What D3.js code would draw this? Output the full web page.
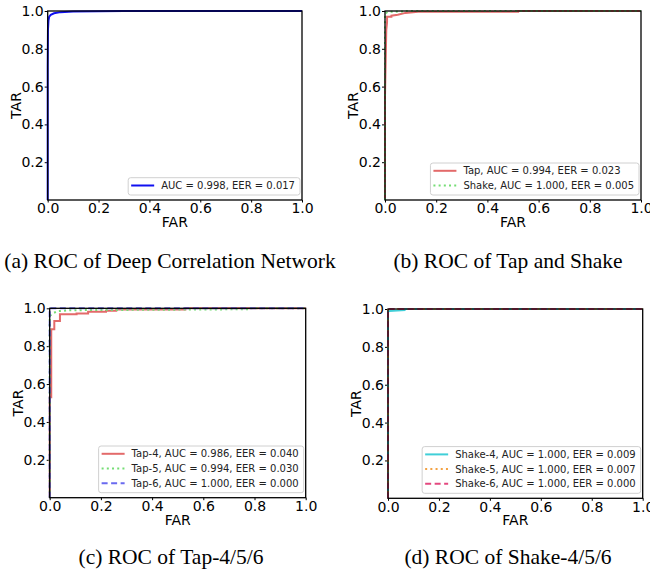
<!DOCTYPE html>
<html>
<head>
<meta charset="utf-8">
<script src="https://cdn.jsdelivr.net/npm/d3@7/dist/d3.min.js"></script>
<style>
  body { margin: 0; background: #fff; }
  svg { display: block; }
</style>
</head>
<body>
<svg id="chart" width="650" height="576"></svg>
<script>
// ROC curves as [FAR, TAR] points
const dcnRoc = [[0,0],[0,0.7],[0.001,0.9],[0.003,0.95],[0.006,0.97],[0.012,0.98],[0.025,0.988],[0.05,0.994],[0.1,0.997],[0.3,1],[1,1]];

const tapRoc = [[0,0],[0,0.55],[0.005,0.9],[0.008,0.94],[0.008,0.97],[0.025,0.97],[0.025,0.975],[0.05,0.98],[0.08,0.99],[0.13,0.996],[0.52,0.996],[0.52,1],[1,1]];
const shakeRoc = [[0,0],[0,0.985],[0.01,0.995],[0.08,0.998],[0.08,1],[1,1]];

const tap4Roc = [[0,0],[0,0.53],[0.006,0.53],[0.006,0.89],[0.018,0.89],[0.018,0.933],[0.04,0.933],[0.04,0.968],[0.105,0.968],[0.105,0.973],[0.15,0.973],[0.15,0.982],[0.22,0.982],[0.22,0.987],[0.26,0.987],[0.26,0.994],[0.53,0.994],[0.53,1],[1,1]];
const tap5Roc = [[0,0],[0,0.96],[0.005,0.965],[0.015,0.975],[0.03,0.985],[0.08,0.99],[0.78,0.995],[0.78,1],[1,1]];
const tap6Roc = [[0,0],[0,1],[1,1]];

const shake4Roc = [[0,0],[0,0.985],[0.005,0.99],[0.065,0.995],[0.065,1],[1,1]];
const shake5Roc = [[0,0],[0,0.995],[0.01,1],[1,1]];
const shake6Roc = [[0,0],[0,1],[1,1]];

const dcnLabels = ["AUC = 0.998, EER = 0.017"];
const tapShakeLabels = ["Tap, AUC = 0.994, EER = 0.023", "Shake, AUC = 1.000, EER = 0.005"];
const tapLabels = ["Tap-4, AUC = 0.986, EER = 0.040", "Tap-5, AUC = 0.994, EER = 0.030", "Tap-6, AUC = 1.000, EER = 0.000"];
const shakeLabels = ["Shake-4, AUC = 1.000, EER = 0.009", "Shake-5, AUC = 1.000, EER = 0.007", "Shake-6, AUC = 1.000, EER = 0.000"];

const xTicks = [0, 0.2, 0.4, 0.6, 0.8, 1.0];
const yTicks = [0.2, 0.4, 0.6, 0.8, 1.0];

const captions = ["(a) ROC of Deep Correlation Network", "(b) ROC of Tap and Shake",
                  "(c) ROC of Tap-4/5/6", "(d) ROC of Shake-4/5/6"];

// line styles
const solid = null, dotted = "2,3.2", dashed = "6,3.5";

const panels = [
  { box: [47.7, 302, 11, 200], cap: [170, 268], caption: captions[0],
    series: [{ data: dcnRoc, color: "#1010f0", dash: solid }], labels: dcnLabels },
  { box: [385, 641, 11, 200], cap: [508, 268], caption: captions[1],
    series: [{ data: tapRoc, color: "#e36a6a", dash: solid },
             { data: shakeRoc, color: "#74dd74", dash: dotted }], labels: tapShakeLabels },
  { box: [49.7, 305.7, 308.3, 497.7], cap: [171, 564], caption: captions[2],
    series: [{ data: tap4Roc, color: "#e36a6a", dash: solid },
             { data: tap5Roc, color: "#74dd74", dash: dotted },
             { data: tap6Roc, color: "#6a6af0", dash: dashed }], labels: tapLabels },
  { box: [388, 642.7, 309, 498.3], cap: [508, 564], caption: captions[3],
    series: [{ data: shake4Roc, color: "#40cfd8", dash: solid },
             { data: shake5Roc, color: "#f3a142", dash: dotted },
             { data: shake6Roc, color: "#e4487f", dash: dashed }], labels: shakeLabels }
];

const svg = d3.select("#chart");
const fmt = d3.format(".1f");

panels.forEach(p => {
  const [left, right, top, bottom] = p.box;
  const x = d3.scaleLinear().domain([0, 1]).range([left, right]);
  const y = d3.scaleLinear().domain([0, 1]).range([bottom, top]);
  const g = svg.append("g");

  // axes
  const xAxis = g.append("g")
    .attr("transform", `translate(0,${bottom})`)
    .call(d3.axisBottom(x).tickValues(xTicks).tickFormat(fmt).tickSize(2.5).tickPadding(1).tickSizeOuter(0));
  const yAxis = g.append("g")
    .attr("transform", `translate(${left},0)`)
    .call(d3.axisLeft(y).tickValues(yTicks).tickFormat(fmt).tickSize(3).tickPadding(1).tickSizeOuter(0));
  [xAxis, yAxis].forEach(a => {
    a.select(".domain").remove();
    a.selectAll("line").attr("stroke", "#000").attr("stroke-width", 1);
    a.selectAll("text").attr("fill", "#000")
      .style("font-family", "DejaVu Sans").style("font-size", "14px");
  });

  // axis titles
  g.append("text")
    .attr("x", (left + right) / 2).attr("y", bottom + 27)
    .attr("text-anchor", "middle")
    .style("font-family", "DejaVu Sans").style("font-size", "14px")
    .text("FAR");
  g.append("text")
    .attr("transform", `translate(${left - 27},${(top + bottom) / 2}) rotate(-90)`)
    .attr("text-anchor", "middle")
    .style("font-family", "DejaVu Sans").style("font-size", "14px")
    .text("TAR");

  // curves
  const line = d3.line().x(d => x(d[0])).y(d => y(d[1]));
  p.series.forEach(s => {
    g.append("path")
      .datum(s.data)
      .attr("d", line)
      .attr("fill", "none")
      .attr("stroke", s.color)
      .attr("stroke-width", 2)
      .attr("stroke-dasharray", s.dash);
  });

  // frame drawn over the curves, like matplotlib spines
  g.append("rect")
    .attr("x", left).attr("y", top)
    .attr("width", right - left).attr("height", bottom - top)
    .attr("fill", "none").attr("stroke", "#000").attr("stroke-width", 1.3);

  // legend
  const leg = g.append("g");
  const rowH = 14.7;
  const texts = p.labels.map(lab => leg.append("text")
    .attr("dy", "0.35em")
    .attr("fill", "#222")
    .style("font-family", "DejaVu Sans").style("font-size", "10px")
    .text(lab));
  const maxW = d3.max(texts, t => t.node().getComputedTextLength());
  const w = 33 + maxW + 5, h = 2.6 + p.labels.length * rowH;
  const lx = right - 2 - w, ly = bottom - 5 - h;
  leg.insert("rect", "text")
    .attr("x", lx).attr("y", ly).attr("width", w).attr("height", h)
    .attr("rx", 2.5).attr("fill", "#fff").attr("fill-opacity", 0.85)
    .attr("stroke", "#d0d0d0").attr("stroke-width", 1);
  texts.forEach((t, i) => {
    const cy = ly + 7.8 + i * rowH;
    t.attr("x", lx + 33).attr("y", cy);
    leg.append("line")
      .attr("x1", lx + 3).attr("x2", lx + 26)
      .attr("y1", cy).attr("y2", cy)
      .attr("stroke", p.series[i].color).attr("stroke-width", 2)
      .attr("stroke-dasharray", p.series[i].dash);
  });

  // caption
  svg.append("text")
    .attr("x", p.cap[0]).attr("y", p.cap[1])
    .attr("text-anchor", "middle")
    .style("font-family", "Liberation Serif").style("font-size", "21.5px")
    .text(p.caption);
});
</script>
</body>
</html>
